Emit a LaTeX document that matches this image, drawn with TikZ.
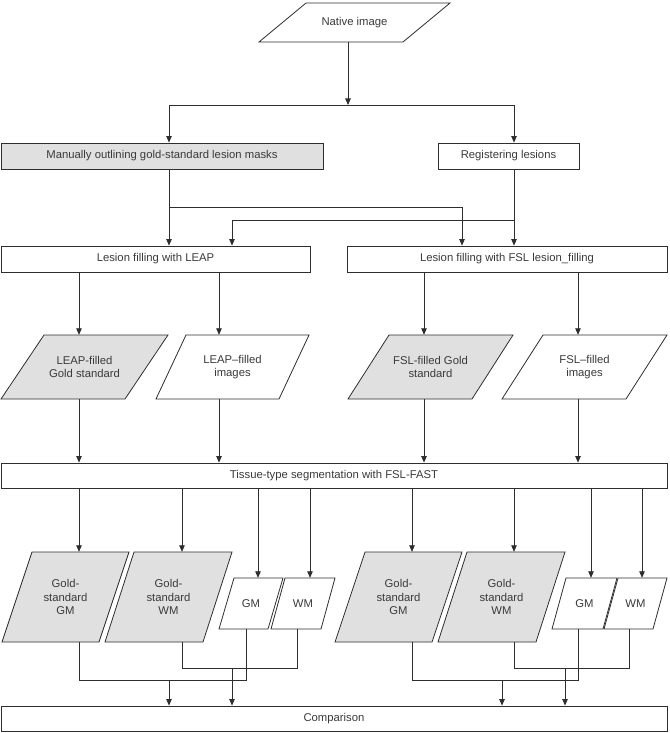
\documentclass[tikz,border=0pt]{standalone}
\usepackage{fontspec}
\setmainfont{Liberation Sans}
\usetikzlibrary{arrows.meta}
\definecolor{gfill}{HTML}{E0E0E0}
\definecolor{lncol}{HTML}{2E2E2E}
\definecolor{txt}{HTML}{3A3A3A}
\tikzset{
  ln/.style={draw=lncol, line width=0.8pt},
  arr/.style={ln, -{Triangle[width=5.5pt,length=6.5pt]}},
  lbl/.style={inner sep=0pt, align=center, text=txt, font=\fontsize{11.3}{13.5}\selectfont},
  box/.style={lbl, draw=lncol, line width=0.8pt, rectangle},
  pg/.style={draw=lncol, line width=0.8pt, line join=miter},
  gray/.style={fill=gfill},
  white/.style={fill=white},
}
% \pgram{style}{name}{x top-left}{x top-right}{slant}{y top}{y bottom}{text}
\newcommand\pgram[8]{%
  \path[pg,#1] (#3,#6) -- (#4,#6) -- ({#4-#5},#7) -- ({#3-#5},#7) -- cycle;
  \node[lbl, minimum height={(#7-#6)*1pt}] (#2) at ({(#3+#4-#5)/2},{(#6+#7)/2}) {#8};
}
\begin{document}
\begin{tikzpicture}[x=1pt,y=-1pt]
\useasboundingbox (0,0) rectangle (669,733);
\foreach \xx in {79,169,182,219,232,246,258,297,310,348,412,424,462,502,514,565,578,591,629,642}
  \coordinate (x\xx) at (\xx,0);
\foreach \yy in {105,207,220,668,680}
  \coordinate (y\yy) at (0,\yy);

% top
\pgram{white}{nat}{306}{450}{47}{3}{42}{Native image}
\node[box, minimum width=322pt, minimum height=26pt, fill=gfill] (man) at (162,156) {Manually outlining gold-standard lesion masks};
\node[box, minimum width=141pt, minimum height=26pt] (reg) at (508.5,156) {Registering lesions};
\node[box, minimum width=309pt, minimum height=26pt] (leap) at (155.5,259) {Lesion filling with LEAP};
\node[box, minimum width=320pt, minimum height=26pt] (fsl) at (507,259) {Lesion filling with FSL lesion\_filling};

% row 2
\pgram{gray}{lgs}{44}{168}{43}{335}{399}{LEAP-filled\\Gold standard}
\pgram{white}{limg}{186}{309}{30}{335}{399}{LEAP–filled\\images}
\pgram{gray}{fgs}{389}{513}{41}{335}{399}{FSL-filled Gold\\standard}
\pgram{white}{fimg}{543}{667}{41}{335}{399}{FSL–filled\\images}

\node[box, minimum width=666pt, minimum height=25pt] (tis) at (334,475.5) {Tissue-type segmentation with FSL-FAST};

% row 3
\pgram{gray}{g1}{32}{129}{30}{552}{642}{Gold-\\standard\\GM}
\pgram{gray}{g2}{134}{232}{29}{552}{642}{Gold-\\standard\\WM}
\pgram{white}{w1}{234}{283}{15}{578}{629}{GM}
\pgram{white}{w2}{285}{335}{14}{578}{629}{WM}
\pgram{gray}{g3}{365}{462}{30}{552}{642}{Gold-\\standard\\GM}
\pgram{gray}{g4}{467}{565}{29}{552}{642}{Gold-\\standard\\WM}
\pgram{white}{w3}{566}{617}{14}{578}{629}{GM}
\pgram{white}{w4}{618}{667}{14}{578}{629}{WM}

\node[box, minimum width=666pt, minimum height=25pt] (cmp) at (334,718.5) {Comparison};

% connectors top
\draw[arr] (nat.south -| x348) -- (x348 |- y105);
\draw[ln] (x169 |- y105) -- (x514 |- y105);
\draw[arr] (x169 |- y105) -- (man.north -| x169);
\draw[arr] (x514 |- y105) -- (reg.north -| x514);
\draw[arr] (man.south -| x169) -- (leap.north -| x169);
\draw[arr] (x169 |- y207) -| (fsl.north -| x462);
\draw[arr] (reg.south -| x514) -- (fsl.north -| x514);
\draw[arr] (x514 |- y220) -| (leap.north -| x232);

% row 2 connectors
\draw[arr] (leap.south -| x79) -- (lgs.north -| x79);
\draw[arr] (leap.south -| x219) -- (limg.north -| x219);
\draw[arr] (fsl.south -| x424) -- (fgs.north -| x424);
\draw[arr] (fsl.south -| x578) -- (fimg.north -| x578);
\draw[arr] (lgs.south -| x79) -- (tis.north -| x79);
\draw[arr] (limg.south -| x219) -- (tis.north -| x219);
\draw[arr] (fgs.south -| x424) -- (tis.north -| x424);
\draw[arr] (fimg.south -| x578) -- (tis.north -| x578);

% row 3 connectors
\draw[arr] (tis.south -| x79) -- (g1.north -| x79);
\draw[arr] (tis.south -| x182) -- (g2.north -| x182);
\draw[arr] (tis.south -| x258) -- (w1.north -| x258);
\draw[arr] (tis.south -| x310) -- (w2.north -| x310);
\draw[arr] (tis.south -| x412) -- (g3.north -| x412);
\draw[arr] (tis.south -| x514) -- (g4.north -| x514);
\draw[arr] (tis.south -| x591) -- (w3.north -| x591);
\draw[arr] (tis.south -| x642) -- (w4.north -| x642);

% bottom connectors
\draw[ln] (g1.south -| x79) -- (x79 |- y680) -- (x246 |- y680) -- (w1.south -| x246);
\draw[ln] (g2.south -| x182) -- (x182 |- y668) -- (x297 |- y668) -- (w2.south -| x297);
\draw[ln] (g3.south -| x412) -- (x412 |- y680) -- (x578 |- y680) -- (w3.south -| x578);
\draw[ln] (g4.south -| x514) -- (x514 |- y668) -- (x629 |- y668) -- (w4.south -| x629);
\draw[arr] (x169 |- y680) -- (cmp.north -| x169);
\draw[arr] (x232 |- y668) -- (cmp.north -| x232);
\draw[arr] (x502 |- y680) -- (cmp.north -| x502);
\draw[arr] (x565 |- y668) -- (cmp.north -| x565);
\end{tikzpicture}
\end{document}
